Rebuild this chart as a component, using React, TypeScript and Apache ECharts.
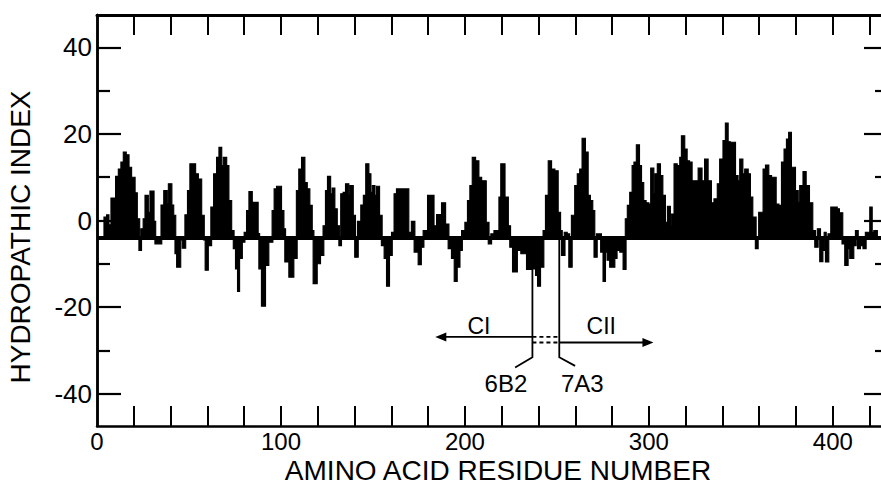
import { useEffect, useRef } from "react";
import * as echarts from "echarts";

// ---- axis values ----
const X_MIN = 0;
const X_MAX = 430;
const Y_MIN = -47.5;
const Y_MAX = 47.5;
const BASELINE = -4;
const xTickValues = [20, 40, 60, 80, 100, 120, 140, 160, 180, 200, 220, 240, 260, 280, 300, 320, 340, 360, 380, 400, 420];
const xLabelValues = [0, 100, 200, 300, 400];
const yMajorValues = [-40, -20, 0, 20, 40];
const yMinorValues = [-30, -10, 10, 30];

// ---- hydropathy profile: [from residue, to residue, index] ----
const profile: [number, number, number][] = [
  [4, 5.4, 0.8], [5.4, 6.3, 1.3], [6.3, 7.8, -1], [7.8, 10.3, 5.2], [10.3, 11.8, 10.2], [11.8, 13.2, 11.9],
  [13.2, 14.5, 13.5], [14.5, 15.7, 15.8], [15.7, 17.2, 15.2], [17.2, 18.6, 12.3], [18.6, 20.5, 10], [20.5, 21.7, 6.4],
  [21.7, 23, 0.4], [23, 24, -6.9], [24, 25.3, -1.9], [25.3, 26.3, 0.4], [26.3, 27.7, 5.8], [27.7, 29, 1.9],
  [29, 30.8, 6.8], [30.8, 31.7, -0.2], [31.7, 35, -5.4], [35, 36.5, 3.6], [36.5, 38, 6.9], [38, 39, 3.8],
  [39, 40.5, 8.5], [40.5, 41.5, 3.6], [41.5, 42.6, 1.2], [42.6, 43.5, -7.7], [43.5, 45.3, -10.8], [45.3, 46.5, -4.5],
  [46.5, 48, -6.4], [48, 49.4, 1.3], [49.4, 50.7, 6.9], [50.7, 53.4, 13.1], [53.4, 54.9, 10.8], [54.9, 56.7, 9.6],
  [56.7, 58.1, 1.2], [58.1, 59, -4.5], [59, 60.3, -11.5], [60.3, 62.1, -5.8], [62.1, 63.6, 3.1], [63.6, 65.2, 10.8],
  [65.2, 66.5, 14.6], [66.5, 67.6, 16.9], [67.6, 68.8, 12.7], [68.8, 70.3, 14.6], [70.3, 71.5, 12.7], [71.5, 73, 4.6],
  [73, 74.3, -2.3], [74.3, 75.5, -6.5], [75.5, 76.6, -11.2], [76.6, 77.3, -16.4], [77.3, 78.8, -8.8], [78.8, 80.2, -5],
  [80.2, 81.5, -2.7], [81.5, 82.8, 2.3], [82.8, 84.2, 6.7], [84.2, 87.4, 4.2],
  [87.4, 88.2, -3], [88.2, 89.6, -11.2], [89.6, 91.4, -19.8], [91.4, 93.2, -10.4], [93.2, 95.4, -5], [95.4, 96.5, 2.3],
  [96.5, 97.8, 7.3], [97.8, 100.1, 7.9], [100.1, 101.4, 2.3], [101.4, 102.3, -1.9], [102.3, 103.8, -9.6], [103.8, 104.5, -7.3],
  [104.5, 106.8, -13.1], [106.8, 108.6, -8.8], [108.6, 109.9, 6.9], [109.9, 111.4, 11.9], [111.4, 112.8, 14.6], [112.8, 114.1, 8.8],
  [114.1, 115.5, 7.3], [115.5, 116.8, 3.5], [116.8, 117.7, -2.3], [117.7, 119.5, -14.6], [119.5, 121.3, -10], [121.3, 123.1, -8.1],
  [123.1, 124.4, -1.2], [124.4, 125.5, 6.9], [125.5, 126.8, 10.2], [126.8, 128, 6.2], [128, 129.1, 7.5], [129.1, 130.4, 2.7],
  [130.4, 131.7, -1.2], [131.7, 132.7, -5.8], [132.7, 134, 6.2], [134, 135.3, 6.5], [135.3, 136.7, 8.5], [136.7, 137.6, 5.8],
  [137.6, 139.1, 8.1], [139.1, 140.3, 1.2], [140.3, 141.8, -8.5], [141.8, 143.6, -0.2], [143.6, 145, 3.6], [145, 146.3, 5.8],
  [146.3, 147.6, 13.1], [147.6, 148.7, 10.8], [148.7, 149.8, 6.5], [149.8, 150.9, 8.1], [150.9, 152.1, 5.8], [152.1, 153.4, 7.9],
  [153.4, 154.8, 1.2], [154.8, 156.3, -5.8], [156.3, 157.6, -8.8], [157.6, 158.8, -15.2], [158.8, 160.3, -8.1], [160.3, 161.7, -2.7],
  [161.7, 163, 6.2], [163, 169.3, 7.3], [169.3, 171.1, -2.7], [171.1, 172.6, -0.2], [172.6, 174.8, -7.3],
  [174.8, 176.1, -10.2], [176.1, 177.5, -6.2], [177.5, 179.9, -2.3], [179.9, 183, 5.8], [183, 184.8, -1.2], [184.8, 187.5, 1.4],
  [187.5, 189.3, 4.1], [189.3, 191.1, -0.8], [191.1, 192.9, -6.5], [192.9, 194.4, -8.8], [194.4, 195.6, -14.1], [195.6, 197.1, -10.8],
  [197.1, 198.4, -6.9], [198.4, 200.2, -2.3], [200.2, 201.6, -0.4], [201.6, 202.9, 4.6], [202.9, 204.2, 8.1], [204.2, 205.6, 14.6],
  [205.6, 207.4, 13.8], [207.4, 208.9, 10], [208.9, 211.4, 9.2], [211.4, 212.9, -0.4], [212.9, 214.3, -5.4], [214.3, 216, -3.1],
  [216, 218.7, -2.3], [218.7, 219.7, 5.4], [219.7, 221.6, 13.1], [221.6, 223.4, 5.4], [223.4, 224.6, -1.2], [224.6, 226.1, -6.2],
  [226.1, 228.3, -11.9], [228.3, 230.6, -6.9], [230.6, 233.7, -7.7], [233.7, 236.4, -11.3], [236.4, 238.6, -11.2], [238.6, 239.7, -12.7],
  [239.7, 240.9, -15.2], [240.9, 242.7, -10.8], [242.7, 244, -2.3], [244, 245.5, 5.8], [245.5, 246.9, 13.8], [246.9, 248.7, 11.9],
  [248.7, 250.5, 11.5], [250.5, 251.8, 1.9], [251.8, 252.7, -2.3], [252.7, 254.2, -8.1], [254.2, 255.4, -2.7], [255.4, 256.7, -3.1],
  [256.7, 258.1, -10.8], [258.1, 259.9, 1.2],
  [259.9, 261.3, 8.1], [261.3, 262.6, 10.8], [262.6, 263.9, 11.9], [263.9, 265.3, 19], [265.3, 266.8, 15.8], [266.8, 268, 5.8],
  [268, 269.3, 4.6], [269.3, 270.4, 2.3], [270.4, 271.7, -8.5], [271.7, 274, -3.1], [274, 275.3, -7.3], [275.3, 276.2, -14.1],
  [276.2, 277.5, -7.3], [277.5, 278.9, -9.2], [278.9, 281.3, -10.8], [281.3, 282.5, -8.8], [282.5, 284.4, -6.9], [284.4, 286.2, -7.3],
  [286.2, 287.4, -11.3], [287.4, 288.5, 0.4], [288.5, 289.8, 3.5], [289.8, 291.1, 6.5], [291.1, 292.1, 12.7], [292.1, 293.4, 13.5],
  [293.4, 294.7, 17.5], [294.7, 295.8, 12.7], [295.8, 297, 8.8], [297, 298.3, 4.6], [298.3, 299.8, 4.1], [299.8, 301.2, 3.8],
  [301.2, 302.5, 12.1], [302.5, 303.4, 6.2], [303.4, 304.8, 10.8], [304.8, 306.1, 13.1], [306.1, 307.4, 10.4], [307.4, 308.8, 5.8],
  [308.8, 310.3, -0.4], [310.3, 311.5, 3.3], [311.5, 312.4, -1.3], [312.4, 313.9, 1.5], [313.9, 315.2, 13.1], [315.2, 317, 12.7],
  [317, 317.9, 14.6], [317.9, 319.3, 19.6], [319.3, 320.6, 16.5], [320.6, 321.9, 13.8], [321.9, 323.3, 13.5], [323.3, 327, 9.2],
  [327, 328.7, 12.1], [328.7, 330.5, 9.2], [330.5, 332, 14.2], [332, 333.8, 9.2], [333.8, 335.6, 4.1], [335.6, 337.4, 5],
  [337.4, 338.7, 8.5], [338.7, 340.5, 14.2], [340.5, 341.8, 18.5], [341.8, 342.9, 22.5], [342.9, 344.1, 18.2], [344.1, 346.9, 18.1],
  [346.9, 348.3, 10.4], [348.3, 349.6, 9.2], [349.6, 350.9, 14.2], [350.9, 352.3, 10.8], [352.3, 353.8, 11.9], [353.8, 355, 10.8],
  [355, 356.3, 5.4], [356.3, 358.1, 0.8], [358.1, 359.2, -6.5], [359.9, 362.3, 1.9], [362.3, 363.6, 11.9],
  [363.6, 365, 12.8], [365, 366.5, 10.4], [366.5, 369, 10], [369, 370.5, 3.8], [370.5, 372.3, 3.5], [372.3, 373.7, 13.5],
  [373.7, 375, 16.5], [375, 376.2, 18.8], [376.2, 377.3, 20.4], [377.3, 379.5, 12.3], [379.5, 381, 6.9], [381, 382.2, 4.2],
  [382.2, 384, 8.1], [384, 385.3, 11.3], [385.3, 387.1, 8.1], [387.1, 388.9, 4.1], [388.9, 390.4, -2.3], [390.4, 391.8, -6.2],
  [391.8, 393.1, -1.9], [393.1, 394.4, -9.5], [394.4, 395.5, -6.9], [395.5, 396.2, -2.7], [396.2, 397.6, -9.6], [397.6, 399.1, -3.1],
  [399.1, 402.2, 3.1], [402.2, 403.4, 2.7], [403.4, 405.2, 1.8], [405.2, 406.7, -5.4], [406.7, 408.1, -10.4], [408.1, 409.4, -6.5],
  [409.4, 411.2, -8.8], [411.2, 412.5, -5.8], [412.5, 413.6, -2.3], [413.6, 414.8, -6.5], [414.8, 416.6, -5.8], [416.6, 417.9, -6.5],
  [417.9, 420.3, -2.7], [420.3, 421.2, 3.1], [421.2, 422.5, -2.7], [422.5, 424, -2.3],
];

// ---- annotation anchors (residue number, index) ----
const site6B2 = 236.7;
const site7A3 = 251.3;
const arrowCIEnd = 183.9;
const arrowCIIEnd = 302.5;
const arrowCIY = -26.9;
const arrowCIIY = -28.2;
const siteLineBottom = -31.6;
const label6B2Pos: [number, number] = [222.3, -37.6];
const label7A3Pos: [number, number] = [263.8, -37.6];
const labelCIPos: [number, number] = [207.6, -24.3];
const labelCIIPos: [number, number] = [274.1, -24.3];
const tail6B2: [number, number] = [227.3, -34.0];
const tail7A3: [number, number] = [259.9, -33.6];

const BLACK = "#000";
const SANS = "'Liberation Sans', Arial, Helvetica, sans-serif";

export default function App() {
  const ref = useRef<HTMLDivElement>(null);

  useEffect(() => {
    if (!ref.current) return;
    const chart = echarts.init(ref.current, null, { renderer: "svg" });

    const yBase = {
      type: "value" as const,
      min: Y_MIN,
      max: Y_MAX,
      splitLine: { show: false },
      axisLine: { show: true, onZero: false, lineStyle: { color: BLACK, width: 2.5 } },
    };
    const majorTick = (len: number) => ({
      show: true, inside: true, length: len, customValues: yMajorValues,
      lineStyle: { color: BLACK, width: 2.2 },
    });
    const minorTick = (len: number) => ({
      show: true, inside: true, length: len, customValues: yMinorValues,
      lineStyle: { color: BLACK, width: 2.2 },
    });

    chart.setOption({
      animation: false,
      backgroundColor: "#fff",
      grid: { left: 97, right: -7, top: 15, bottom: 63, containLabel: false, outerBoundsMode: "none" },
      xAxis: [
        {
          type: "value", position: "bottom", min: X_MIN, max: X_MAX,
          splitLine: { show: false },
          axisLine: { show: true, onZero: false, lineStyle: { color: BLACK, width: 2.5 } },
          axisTick: { show: true, inside: true, length: 20, customValues: xTickValues, lineStyle: { color: BLACK, width: 2 } },
          axisLabel: { show: true, customValues: xLabelValues, fontSize: 24, color: BLACK, fontFamily: SANS, margin: 3 },
        },
        {
          type: "value", position: "top", min: X_MIN, max: X_MAX,
          splitLine: { show: false },
          axisLine: { show: true, onZero: false, lineStyle: { color: BLACK, width: 3 } },
          axisTick: { show: true, inside: true, length: 20, customValues: xTickValues, lineStyle: { color: BLACK, width: 2 } },
          axisLabel: { show: false },
        },
      ],
      yAxis: [
        {
          ...yBase, position: "left", axisTick: majorTick(24),
          axisLabel: { show: true, customValues: yMajorValues, fontSize: 26, color: BLACK, fontFamily: SANS, margin: 5 },
        },
        { ...yBase, position: "left", axisTick: minorTick(13), axisLabel: { show: false } },
        { ...yBase, position: "right", axisTick: majorTick(24), axisLabel: { show: false } },
        { ...yBase, position: "right", axisTick: minorTick(13), axisLabel: { show: false } },
      ],
      series: [
        {
          type: "custom",
          xAxisIndex: 0,
          yAxisIndex: 0,
          data: profile,
          encode: { x: [0, 1], y: 2 },
          renderItem: (_params: any, api: any) => {
            const x0 = api.value(0);
            const x1 = api.value(1);
            const v = api.value(2);
            const p0 = api.coord([x0, v]);
            const p1 = api.coord([x1, BASELINE]);
            return {
              type: "rect",
              shape: {
                x: Math.min(p0[0], p1[0]) - 0.4,
                y: Math.min(p0[1], p1[1]),
                width: Math.abs(p1[0] - p0[0]) + 0.8,
                height: Math.abs(p1[1] - p0[1]),
              },
              style: { fill: BLACK, stroke: BLACK, lineWidth: 1.1 },
            };
          },
          markLine: {
            silent: true,
            symbol: "none",
            label: { show: false },
            lineStyle: { color: BLACK, width: 4, type: "solid" },
            data: [{ yAxis: BASELINE }],
          },
        },
      ],
    });

    const px = (p: [number, number]) => chart.convertToPixel({ xAxisIndex: 0, yAxisIndex: 0 }, p) as number[];
    const lineStyle = { stroke: BLACK, lineWidth: 1.8, fill: "none" };

    const a = px([site6B2, arrowCIY]);
    const aEnd = px([arrowCIEnd, arrowCIY]);
    const b = px([site7A3, arrowCIIY]);
    const bEnd = px([arrowCIIEnd, arrowCIIY]);
    const a2 = px([site7A3, arrowCIY]);
    const b2 = px([site6B2, arrowCIIY]);
    const s6Top = px([site6B2, BASELINE]);
    const s6Bot = px([site6B2, siteLineBottom]);
    const s6Tail = px(tail6B2);
    const s7Top = px([site7A3, BASELINE]);
    const s7Bot = px([site7A3, siteLineBottom]);
    const s7Tail = px(tail7A3);

    const textAt = (p: [number, number], text: string, size: number) => {
      const q = px(p);
      return {
        type: "text",
        x: q[0],
        y: q[1],
        style: { text, fontSize: size, fontFamily: SANS, fill: BLACK, align: "center", verticalAlign: "middle" },
      };
    };

    chart.setOption({
      graphic: [
        { type: "polyline", shape: { points: [s6Top, s6Bot, s6Tail] }, style: lineStyle },
        { type: "polyline", shape: { points: [s7Top, s7Bot, s7Tail] }, style: lineStyle },
        { type: "line", shape: { x1: a[0], y1: a[1], x2: aEnd[0] + 8, y2: aEnd[1] }, style: lineStyle },
        {
          type: "polygon",
          shape: { points: [[aEnd[0], aEnd[1]], [aEnd[0] + 11, aEnd[1] - 4.5], [aEnd[0] + 11, aEnd[1] + 4.5]] },
          style: { fill: BLACK },
        },
        { type: "line", shape: { x1: b[0], y1: b[1], x2: bEnd[0] - 8, y2: bEnd[1] }, style: lineStyle },
        {
          type: "polygon",
          shape: { points: [[bEnd[0], bEnd[1]], [bEnd[0] - 11, bEnd[1] - 4.5], [bEnd[0] - 11, bEnd[1] + 4.5]] },
          style: { fill: BLACK },
        },
        { type: "line", shape: { x1: a[0], y1: a[1], x2: a2[0], y2: a2[1] }, style: { ...lineStyle, lineDash: [4, 3] } },
        { type: "line", shape: { x1: b2[0], y1: b2[1], x2: b[0], y2: b[1] }, style: { ...lineStyle, lineDash: [4, 3] } },
        textAt(labelCIPos, "CI", 23),
        textAt(labelCIIPos, "CII", 23),
        textAt(label6B2Pos, "6B2", 24),
        textAt(label7A3Pos, "7A3", 24),
        {
          type: "text",
          x: 20,
          y: 237,
          rotation: Math.PI / 2,
          style: { text: "HYDROPATHIC INDEX", fontSize: 28, fontFamily: SANS, fill: BLACK, align: "center", verticalAlign: "middle" },
        },
        {
          type: "text",
          x: 498,
          y: 470,
          style: { text: "AMINO ACID RESIDUE NUMBER", fontSize: 28, fontFamily: SANS, fill: BLACK, align: "center", verticalAlign: "middle" },
        },
      ],
    });

    return () => chart.dispose();
  }, []);

  return (
    <div
      ref={ref}
      style={{ position: "fixed", left: 0, top: 0, width: 881, height: 489, background: "#fff" }}
    />
  );
}
